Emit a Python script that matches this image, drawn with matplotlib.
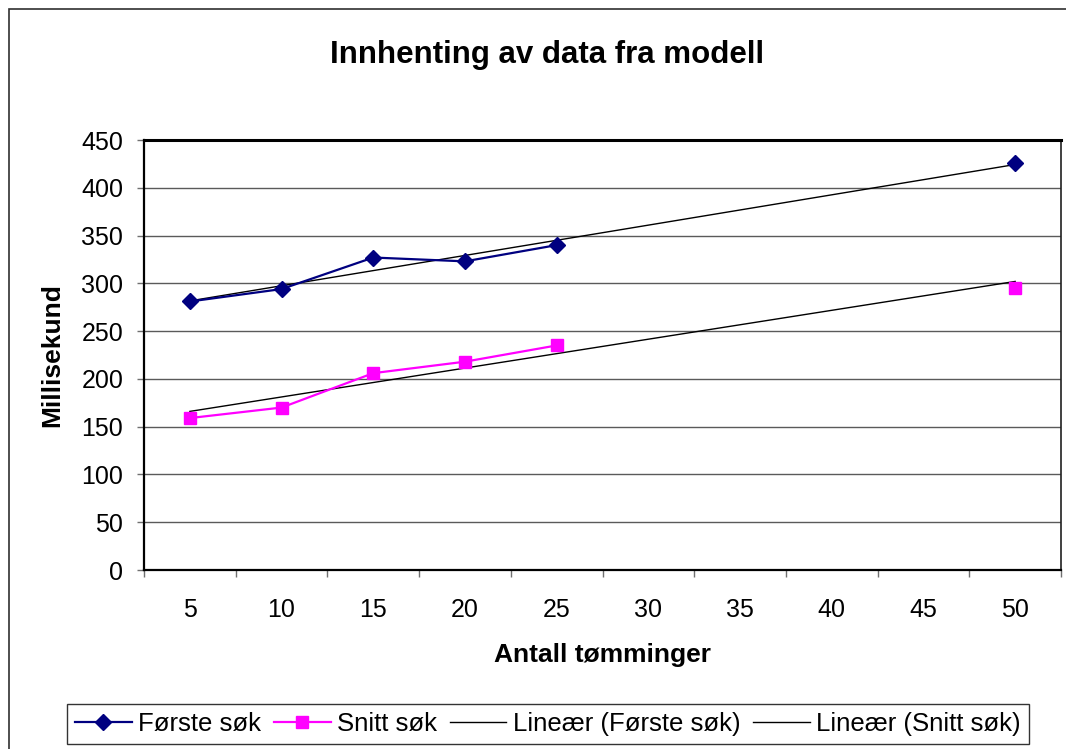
import numpy as np
import matplotlib
matplotlib.use("Agg")
import matplotlib.pyplot as plt
from matplotlib.patches import Rectangle
from matplotlib.ticker import FixedLocator

plt.rcParams['font.family'] = ['Liberation Sans', 'DejaVu Sans']

categories = ["5", "10", "15", "20", "25", "30", "35", "40", "45", "50"]
forste_sok = [281, 294, 327, 323, 340, np.nan, np.nan, np.nan, np.nan, 426]
snitt_sok = [159, 170, 206, 218, 235, np.nan, np.nan, np.nan, np.nan, 295]

title = "Innhenting av data fra modell"
xlabel = "Antall tømminger"
ylabel = "Millisekund"
labels = ["Første søk", "Snitt søk", "Lineær (Første søk)", "Lineær (Snitt søk)"]

W, H = 1066, 749
fig = plt.figure(figsize=(W / 100, H / 100), dpi=100)
ax = fig.add_axes([144 / W, 1 - 570 / H, (1061 - 144) / W, (570 - 140) / H])

x = np.arange(len(categories))
f = np.array(forste_sok, dtype=float)
s = np.array(snitt_sok, dtype=float)

ax.plot(x, f, color='#000080', lw=1.6, marker='D', markersize=8,
        markeredgecolor='#000080', markerfacecolor='#000080', label=labels[0], zorder=4)
ax.plot(x, s, color='#FF00FF', lw=1.6, marker='s', markersize=9,
        markeredgecolor='#FF00FF', markerfacecolor='#FF00FF', label=labels[1], zorder=4)

# Excel-style linear trendlines over category index (1-based)
xi = x + 1
for arr, lab in [(f, labels[2]), (s, labels[3])]:
    m = ~np.isnan(arr)
    k, b = np.polyfit(xi[m], arr[m], 1)
    xs = np.array([xi[m].min(), xi[m].max()])
    ax.plot(xs - 1, k * xs + b, color='black', lw=1.0, label=lab, zorder=3)

ax.set_xlim(-0.5, len(categories) - 0.5)
ax.set_ylim(0, 450)
ax.set_yticks(np.arange(0, 451, 50))
ax.grid(axis='y', color='#5a5a5a', lw=1.0)
ax.set_axisbelow(True)

ax.set_xticks(x)
ax.set_xticklabels(categories)
ax.xaxis.set_minor_locator(FixedLocator(np.arange(-0.5, len(categories), 1.0)))
ax.tick_params(axis='x', which='major', length=0, pad=20, labelsize=18)
ax.tick_params(axis='x', which='minor', length=5, width=1, color='#707070', direction='out')
ax.tick_params(axis='y', which='major', length=5, width=1, color='#707070', pad=10, labelsize=18)

for side in ['left', 'bottom']:
    ax.spines[side].set_linewidth(1.6)
    ax.spines[side].set_color('black')
ax.spines['top'].set_linewidth(2.2)
ax.spines['top'].set_color('black')
ax.spines['right'].set_linewidth(1.2)
ax.spines['right'].set_color('#202020')

fig.text(547 / W, 1 - 55 / H, title, ha='center', va='center', fontsize=22.5, fontweight='bold')
fig.text(602 / W, 1 - 655 / H, xlabel, ha='center', va='center', fontsize=19, fontweight='bold')
fig.text(52 / W, 1 - 355 / H, ylabel, ha='center', va='center', fontsize=19, fontweight='bold', rotation=90)

leg = fig.legend(loc='center', bbox_to_anchor=(548 / W, 1 - 724 / H), ncol=4, frameon=True,
                 fancybox=False, edgecolor='black', fontsize=18.5, handlelength=2.2,
                 handletextpad=0.25, columnspacing=0.5, borderpad=0.3, borderaxespad=0)
leg.get_frame().set_linewidth(1.0)

# outer chart border (extends beyond the image at right and bottom)
fig.add_artist(Rectangle((9 / W, -0.05), 1.2, 1 - 9 / H + 0.05, transform=fig.transFigure,
                         fill=False, edgecolor='#303030', lw=1.2, clip_on=False))

fig.savefig("out.png", dpi=100)
